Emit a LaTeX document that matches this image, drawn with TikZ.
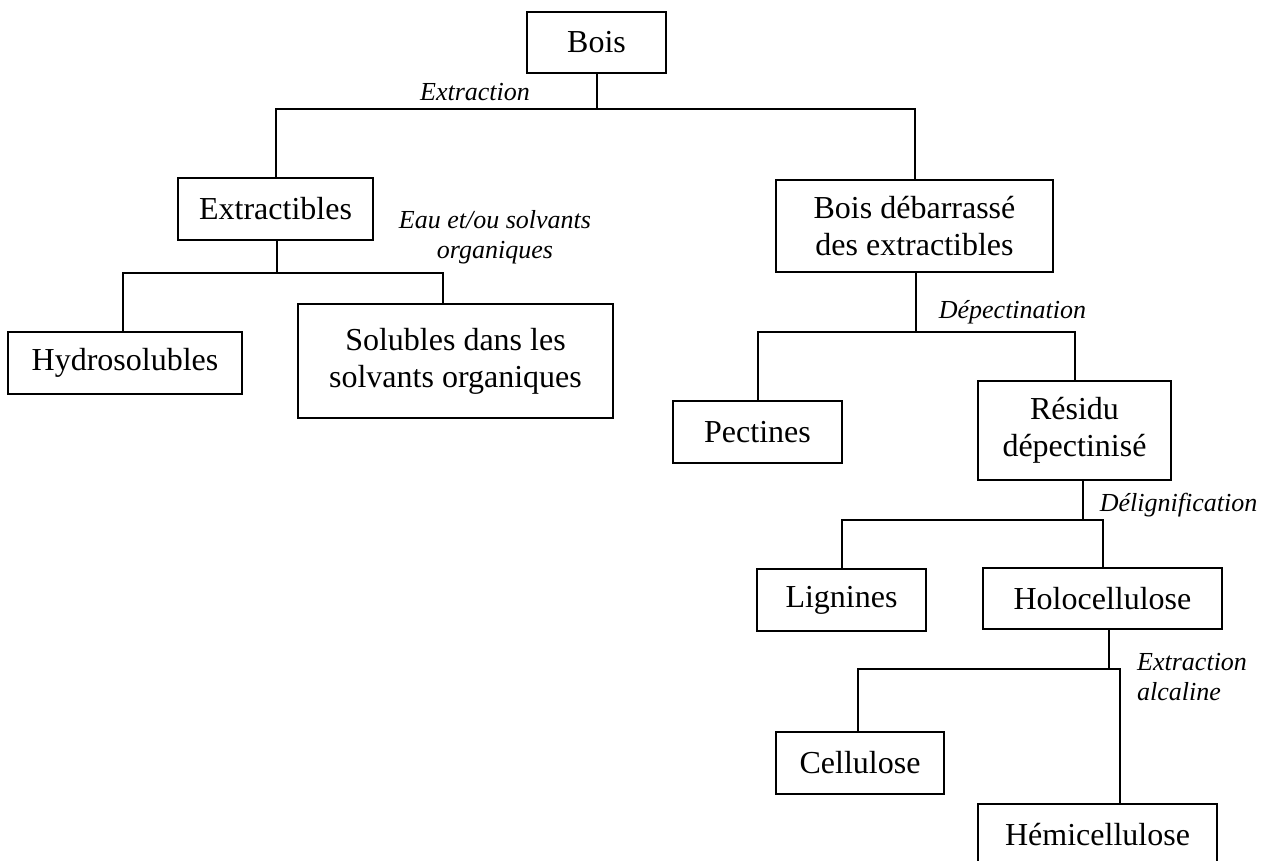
\documentclass[tikz,border=0pt]{standalone}
\usepackage{fontspec}
\setmainfont{Liberation Serif}
\begin{document}
\begin{tikzpicture}[x=1pt,y=-1pt,
  box/.style={draw, line width=2pt, inner sep=0pt, align=center,
    font=\fontsize{32}{37}\selectfont},
  lab/.style={inner sep=0pt, font=\fontsize{26}{30}\selectfont\itshape},
  conn/.style={line width=2pt}]
\fill[white] (0,0) rectangle (1270,861);
\useasboundingbox (0,0) rectangle (1270,861);
% boxes
\node[box, minimum width=139pt, minimum height=61pt] (bois) at (596.5,42.5) {Bois};
\node[box, minimum width=195pt, minimum height=62pt] (extr) at (275.5,209) {Extractibles};
\node[box, minimum width=277pt, minimum height=92pt] (bde) at (914.5,226) {Bois débarrassé\\des extractibles};
\node[box, minimum width=234pt, minimum height=62pt] (hydro) at (125,363) {Hydrosolubles};
\node[box, minimum width=315pt, minimum height=114pt] (sol) at (455.5,361) {Solubles dans les\\solvants organiques};
\node[box, minimum width=169pt, minimum height=62pt] (pect) at (757.5,432) {Pectines};
\node[box, minimum width=193pt, minimum height=99pt] (res) at (1074.5,430.5) {Résidu\\dépectinisé};
\node[box, minimum width=169pt, minimum height=62pt] (lig) at (841.5,600) {Lignines};
\node[box, minimum width=239pt, minimum height=61pt] (holo) at (1102.5,598.5) {Holocellulose};
\node[box, minimum width=168pt, minimum height=62pt] (cell) at (860,763) {Cellulose};
\node[box, minimum width=239pt, minimum height=62pt] (hemi) at (1097.5,835) {Hémicellulose};
% junctions
\coordinate (j1) at (596.5,109);
\coordinate (j2) at (277,273);
\coordinate (j3) at (916,332);
\coordinate (j4) at (1083,520);
\coordinate (j5) at (1109,669);
% connectors
\draw[conn] (bois.south) -- (j1);
\draw[conn] (extr.north) -- (extr.north |- j1) -- (bde.north |- j1) -- (bde.north);
\draw[conn] (extr.south -| j2) -- (j2);
\draw[conn] (hydro.north -| 123,0) -- (123,273) -- (443,273) -- ([xshift=-12.5pt]sol.north);
\draw[conn] (bde.south -| j3) -- (j3);
\draw[conn] (pect.north) -- (pect.north |- j3) -- (res.north |- j3) -- (res.north);
\draw[conn] (res.south -| j4) -- (j4);
\draw[conn] (lig.north) -- (lig.north |- j4) -- (holo.north |- j4) -- (holo.north);
\draw[conn] (holo.south -| j5) -- (j5);
\draw[conn] (cell.north -| 858,0) -- (858,669) -- (1120,669) -- ([xshift=22.5pt]hemi.north);
% labels
\node[lab] (lextr) at (475,92) {Extraction};
\node[lab, align=center] (leau) at (495,237) {Eau et/ou solvants\\organiques};
\node[lab] (ldep) at (1012.5,312) {Dépectination};
\node[lab] (ldel) at (1178.5,505) {Délignification};
\node[lab, anchor=west, align=left] (lalc) at (1137,677.5) {Extraction\\alcaline};
\end{tikzpicture}
\end{document}
